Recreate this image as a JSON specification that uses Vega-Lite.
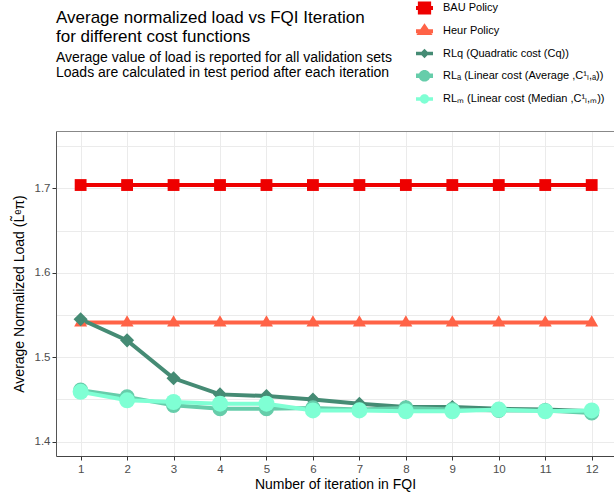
{
  "$schema": "https://vega.github.io/schema/vega-lite/v6.json",
  "width": 558,
  "height": 325,
  "autosize": {"type": "none"},
  "padding": {"left": 56, "top": 131, "right": 0, "bottom": 40},
  "config": {
    "font": "Liberation Sans",
    "view": {"stroke": null},
    "axis": {
      "gridColor": "#EBEBEB",
      "gridWidth": 1,
      "domainColor": "#555555",
      "tickColor": "#333333",
      "tickSize": 4,
      "labelColor": "#4D4D4D",
      "labelFontSize": 11.5,
      "titleFontSize": 14,
      "titleFontWeight": "normal",
      "titleColor": "#000000"
    }
  },
  "title": {
    "text": ["Average normalized load vs FQI Iteration", "for different cost functions"],
    "subtitle": ["Average value of load is reported for all validation sets", "Loads are calculated in test period after each iteration"],
    "anchor": "start",
    "frame": "group",
    "fontSize": 17,
    "fontWeight": "normal",
    "lineHeight": 18.5,
    "color": "#000000",
    "subtitleFontSize": 14,
    "subtitleLineHeight": 15,
    "subtitleColor": "#000000",
    "subtitlePadding": 5,
    "offset": -81
  },
  "data": {
    "values": [
      {"iter": 1, "series": "BAU", "load": 1.704},
      {"iter": 2, "series": "BAU", "load": 1.704},
      {"iter": 3, "series": "BAU", "load": 1.704},
      {"iter": 4, "series": "BAU", "load": 1.704},
      {"iter": 5, "series": "BAU", "load": 1.704},
      {"iter": 6, "series": "BAU", "load": 1.704},
      {"iter": 7, "series": "BAU", "load": 1.704},
      {"iter": 8, "series": "BAU", "load": 1.704},
      {"iter": 9, "series": "BAU", "load": 1.704},
      {"iter": 10, "series": "BAU", "load": 1.704},
      {"iter": 11, "series": "BAU", "load": 1.704},
      {"iter": 12, "series": "BAU", "load": 1.704},
      {"iter": 1, "series": "Heur", "load": 1.541},
      {"iter": 2, "series": "Heur", "load": 1.541},
      {"iter": 3, "series": "Heur", "load": 1.541},
      {"iter": 4, "series": "Heur", "load": 1.541},
      {"iter": 5, "series": "Heur", "load": 1.541},
      {"iter": 6, "series": "Heur", "load": 1.541},
      {"iter": 7, "series": "Heur", "load": 1.541},
      {"iter": 8, "series": "Heur", "load": 1.541},
      {"iter": 9, "series": "Heur", "load": 1.541},
      {"iter": 10, "series": "Heur", "load": 1.541},
      {"iter": 11, "series": "Heur", "load": 1.541},
      {"iter": 12, "series": "Heur", "load": 1.541},
      {"iter": 1, "series": "RLq", "load": 1.545},
      {"iter": 2, "series": "RLq", "load": 1.520},
      {"iter": 3, "series": "RLq", "load": 1.475},
      {"iter": 4, "series": "RLq", "load": 1.456},
      {"iter": 5, "series": "RLq", "load": 1.454},
      {"iter": 6, "series": "RLq", "load": 1.450},
      {"iter": 7, "series": "RLq", "load": 1.445},
      {"iter": 8, "series": "RLq", "load": 1.441},
      {"iter": 9, "series": "RLq", "load": 1.441},
      {"iter": 10, "series": "RLq", "load": 1.439},
      {"iter": 11, "series": "RLq", "load": 1.438},
      {"iter": 12, "series": "RLq", "load": 1.436},
      {"iter": 1, "series": "RLa", "load": 1.461},
      {"iter": 2, "series": "RLa", "load": 1.453},
      {"iter": 3, "series": "RLa", "load": 1.443},
      {"iter": 4, "series": "RLa", "load": 1.439},
      {"iter": 5, "series": "RLa", "load": 1.439},
      {"iter": 6, "series": "RLa", "load": 1.440},
      {"iter": 7, "series": "RLa", "load": 1.438},
      {"iter": 8, "series": "RLa", "load": 1.440},
      {"iter": 9, "series": "RLa", "load": 1.438},
      {"iter": 10, "series": "RLa", "load": 1.437},
      {"iter": 11, "series": "RLa", "load": 1.437},
      {"iter": 12, "series": "RLa", "load": 1.434},
      {"iter": 1, "series": "RLm", "load": 1.459},
      {"iter": 2, "series": "RLm", "load": 1.449},
      {"iter": 3, "series": "RLm", "load": 1.447},
      {"iter": 4, "series": "RLm", "load": 1.445},
      {"iter": 5, "series": "RLm", "load": 1.445},
      {"iter": 6, "series": "RLm", "load": 1.437},
      {"iter": 7, "series": "RLm", "load": 1.437},
      {"iter": 8, "series": "RLm", "load": 1.436},
      {"iter": 9, "series": "RLm", "load": 1.436},
      {"iter": 10, "series": "RLm", "load": 1.438},
      {"iter": 11, "series": "RLm", "load": 1.436},
      {"iter": 12, "series": "RLm", "load": 1.437}
    ]
  },
  "encoding": {
    "x": {
      "field": "iter",
      "type": "quantitative",
      "scale": {"domain": [0.47, 12.48], "nice": false, "zero": false},
      "axis": {
        "values": [1, 2, 3, 4, 5, 6, 7, 8, 9, 10, 11, 12],
        "format": "d",
        "title": "Number of iteration in FQI",
        "labelPadding": 3,
        "titlePadding": 3,
        "domainColor": "#444444"
      }
    },
    "y": {
      "field": "load",
      "type": "quantitative",
      "scale": {"domain": [1.383, 1.768], "nice": false, "zero": false},
      "axis": {
        "values": [1.4, 1.45, 1.5, 1.55, 1.6, 1.65, 1.7, 1.75],
        "labelExpr": "abs(datum.value*10 - round(datum.value*10)) < 0.001 ? format(datum.value, '.1f') : ''",
        "tickOpacity": {"condition": {"test": "abs(datum.value*10 - round(datum.value*10)) > 0.001", "value": 0}, "value": 1},
        "title": "Average Normalized Load (L̃ᵉπ)",
        "labelPadding": 2,
        "titlePadding": 8,
        "domainColor": "#555555"
      }
    }
  },
  "layer": [
    {
      "mark": {"type": "line"},
      "encoding": {
        "color": {
          "field": "series",
          "type": "nominal",
          "scale": {"domain": ["BAU", "Heur", "RLq", "RLa", "RLm"], "range": ["#EE0000", "#FF6347", "#458B74", "#66CDAA", "#7FFFD4"]},
          "legend": null
        },
        "strokeWidth": {
          "field": "series",
          "type": "nominal",
          "scale": {"domain": ["BAU", "Heur", "RLq", "RLa", "RLm"], "range": [4, 4, 3, 4.5, 4]},
          "legend": null
        }
      }
    },
    {
      "mark": {"type": "point", "filled": true, "opacity": 1},
      "encoding": {
        "x": {
          "field": "iter",
          "type": "quantitative",
          "scale": {"domain": [0.47, 12.48], "nice": false, "zero": false},
          "axis": {"orient": "top", "labels": false, "ticks": false, "grid": false, "title": null, "domainColor": "#888888"}
        },
        "color": {
          "field": "series",
          "type": "nominal",
          "scale": {"domain": ["BAU", "Heur", "RLq", "RLa", "RLm"], "range": ["#EE0000", "#FF6347", "#458B74", "#66CDAA", "#7FFFD4"]},
          "legend": null
        },
        "shape": {
          "field": "series",
          "type": "nominal",
          "scale": {
            "domain": ["BAU", "Heur", "RLq", "RLa", "RLm"],
            "range": ["square", "M0,-1.15L1,0.58L-1,0.58Z", "diamond", "circle", "circle"]
          },
          "legend": null
        },
        "size": {
          "field": "series",
          "type": "nominal",
          "scale": {"domain": ["BAU", "Heur", "RLq", "RLa", "RLm"], "range": [140, 256, 100, 130, 72]},
          "legend": null
        }
      }
    },
    {
      "mark": {"type": "point", "filled": true, "opacity": 0, "size": 289},
      "encoding": {
        "x": {
          "field": "iter",
          "type": "quantitative",
          "scale": {"domain": [0.47, 12.48], "nice": false, "zero": false},
          "axis": null
        },
        "color": {
          "field": "series",
          "type": "nominal",
          "scale": {"domain": ["BAU", "Heur", "RLq", "RLa", "RLm"], "range": ["#EE0000", "#FF6347", "#458B74", "#66CDAA", "#7FFFD4"]},
          "legend": {
            "orient": "none",
            "legendX": 360,
            "legendY": -131.5,
            "title": null,
            "padding": 0,
            "symbolSize": 289,
            "symbolOpacity": 1,
            "symbolStrokeWidth": 0,
            "rowPadding": 8.25,
            "labelOffset": 10,
            "labelFontSize": 11,
            "labelColor": "#000000",
            "labelLimit": 400,
            "labelExpr": "{'BAU':'BAU Policy','Heur':'Heur Policy','RLq':'RLq (Quadratic cost (Cq))','RLa':'RLₐ (Linear cost (Average ,C¹ₗ,ₐ))','RLm':'RLₘ (Linear cost (Median ,C¹ₗ,ₘ))'}[datum.value]"
          }
        },
        "shape": {
          "field": "series",
          "type": "nominal",
          "scale": {
            "domain": ["BAU", "Heur", "RLq", "RLa", "RLm"],
            "range": [
              "M-1,-0.24H1V0.24H-1Z M-0.78,-0.76H0.78V0.76H-0.78Z",
              "M-1,-0.24H1V0.24H-1Z M0,-0.95L0.95,0.45L-0.95,0.45Z",
              "M-1,-0.2H1V0.2H-1Z M0,-0.55L0.55,0L0,0.55L-0.55,0Z",
              "M-1,-0.26H1V0.26H-1Z M-0.69,0A0.69,0.69 0 1,1 0.69,0A0.69,0.69 0 1,1 -0.69,0Z",
              "M-1,-0.22H1V0.22H-1Z M-0.55,0A0.55,0.55 0 1,1 0.55,0A0.55,0.55 0 1,1 -0.55,0Z"
            ]
          },
          "legend": {
            "orient": "none",
            "legendX": 360,
            "legendY": -131.5,
            "title": null,
            "padding": 0,
            "symbolSize": 289,
            "symbolOpacity": 1,
            "symbolStrokeWidth": 0,
            "rowPadding": 8.25,
            "labelOffset": 10,
            "labelFontSize": 11,
            "labelColor": "#000000",
            "labelLimit": 400,
            "labelExpr": "{'BAU':'BAU Policy','Heur':'Heur Policy','RLq':'RLq (Quadratic cost (Cq))','RLa':'RLₐ (Linear cost (Average ,C¹ₗ,ₐ))','RLm':'RLₘ (Linear cost (Median ,C¹ₗ,ₘ))'}[datum.value]"
          }
        }
      }
    }
  ],
  "resolve": {
    "scale": {"color": "independent", "shape": "independent", "size": "independent", "strokeWidth": "independent"},
    "axis": {"x": "independent"}
  }
}
